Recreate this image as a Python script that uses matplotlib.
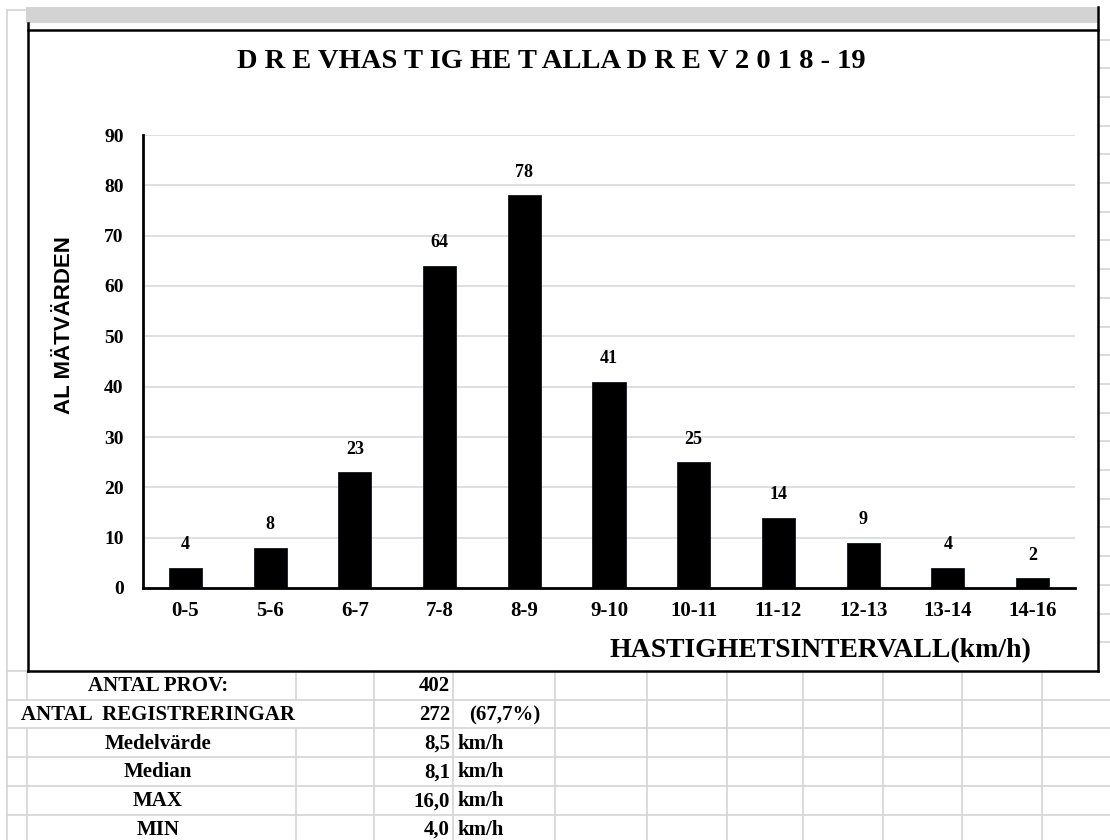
import matplotlib
matplotlib.use("Agg")
import matplotlib.pyplot as plt
from matplotlib.patches import Rectangle
import numpy as np

# chart data
intervals = ["0-5", "5-6", "6-7", "7-8", "8-9", "9-10", "10-11", "11-12", "12-13", "13-14", "14-16"]
counts = [4, 8, 23, 64, 78, 41, 25, 14, 9, 4, 2]

# summary table below the chart
stat_labels = ["ANTAL PROV:", "ANTAL  REGISTRERINGAR", "Medelvärde", "Median", "MAX", "MIN"]
stat_values = ["402", "272", "8,5", "8,1", "16,0", "4,0"]
stat_units = ["", "(67,7%)", "km/h", "km/h", "km/h", "km/h"]

serif = "Liberation Serif"
sans = "Liberation Sans"
grid_gray = "#d4d4d4"

fig = plt.figure(figsize=(11.1, 8.4), dpi=100)

# background layer in pixel coordinates (spreadsheet grid, frame, table)
bg = fig.add_axes([0, 0, 1, 1], zorder=0)
bg.set_xlim(0, 1110)
bg.set_ylim(840, 0)
bg.axis("off")

row_h = 28.7
chart_bottom = 671

# light sheet grid
bg.plot([7, 7], [10, 840], color=grid_gray, lw=1.2)
bg.plot([7, 26], [10, 10], color=grid_gray, lw=1.2)
bg.add_patch(Rectangle((26, 7), 1071, 16, facecolor="#d3d3d3", edgecolor="none"))
y = chart_bottom - row_h
while y > 12:
    bg.plot([1098, 1110], [y, y], color=grid_gray, lw=1.2)
    y -= row_h

bg.plot([7, 28], [chart_bottom, chart_bottom], color=grid_gray, lw=1.2)
for k in range(1, 6):
    yy = chart_bottom + k * row_h
    bg.plot([7, 1110], [yy, yy], color=grid_gray, lw=1.2)

col_x = [27, 296, 374, 453, 555, 647, 727, 803, 883, 962, 1042]
for cx in col_x:
    if cx in (27, 296):
        # second row text spills over these borders
        bg.plot([cx, cx], [chart_bottom, chart_bottom + row_h], color=grid_gray, lw=1.2)
        bg.plot([cx, cx], [chart_bottom + 2 * row_h, 840], color=grid_gray, lw=1.2)
    else:
        bg.plot([cx, cx], [chart_bottom, 840], color=grid_gray, lw=1.2)

# chart frame
bg.plot([28, 28], [23, chart_bottom], color="black", lw=1.8)
bg.plot([28, 1098], [30, 30], color="black", lw=1.8)
bg.plot([1098, 1098], [7, chart_bottom], color="black", lw=1.8)
bg.plot([28, 1098], [chart_bottom, chart_bottom], color="black", lw=1.8)

# table text
for i in range(len(stat_labels)):
    yc = chart_bottom + (i + 0.5) * row_h + 1
    bg.text(158, yc, stat_labels[i], ha="center", va="center",
            family=serif, fontweight="bold", fontsize=15)
    bg.text(450, yc, stat_values[i], ha="right", va="center",
            family=serif, fontweight="bold", fontsize=15)
    if stat_units[i].startswith("("):
        bg.text(505, yc, stat_units[i], ha="center", va="center",
                family=serif, fontweight="bold", fontsize=15)
    elif stat_units[i]:
        bg.text(457, yc, stat_units[i], ha="left", va="center",
                family=serif, fontweight="bold", fontsize=15)

# bar chart
ax = fig.add_axes([143 / 1110, 252 / 840, 932 / 1110, 453 / 840], zorder=1)
ax.set_facecolor("none")
x = np.arange(len(intervals))
ax.bar(x, counts, width=0.39, color="black", edgecolor="#101820", linewidth=0.6)
ax.set_xlim(-0.5, len(intervals) - 0.5)
ax.set_ylim(0, 90)
ax.set_yticks(range(0, 91, 10))
ax.set_xticks(x)
ax.set_xticklabels(intervals)
ax.yaxis.grid(True, color="#d9d9d9", lw=1.2)
ax.set_axisbelow(True)
for s in ["top", "right"]:
    ax.spines[s].set_visible(False)
ax.spines["left"].set_linewidth(2)
ax.spines["bottom"].set_linewidth(2)
ax.tick_params(axis="y", length=0, pad=14)
ax.tick_params(axis="x", length=0, pad=9)
for lab in ax.get_yticklabels():
    lab.set_fontfamily(serif)
    lab.set_fontweight("bold")
    lab.set_fontsize(14)
for lab in ax.get_xticklabels():
    lab.set_fontfamily(serif)
    lab.set_fontweight("bold")
    lab.set_fontsize(15)

for i, v in enumerate(counts):
    ax.annotate(str(v), (i, v), xytext=(0, 16.5), textcoords="offset points",
                ha="center", va="center", family=serif, fontweight="bold", fontsize=13)

fig.text(551 / 1110, 1 - 61 / 840, "D R E VHAS T IG HE T ALLA D R E V 2 0 1 8 - 19",
         ha="center", va="center", family=serif, fontweight="bold", fontsize=20.5)
fig.text(65 / 1110, 1 - 325 / 840, "AL MÄTVÄRDEN", rotation=90,
         ha="center", va="center", family=sans, fontweight="bold", fontsize=16)
fig.text(1031 / 1110, 1 - 651 / 840, "HASTIGHETSINTERVALL(km/h)",
         ha="right", va="center", family=serif, fontweight="bold", fontsize=20)

fig.savefig("out.png", dpi=100)
